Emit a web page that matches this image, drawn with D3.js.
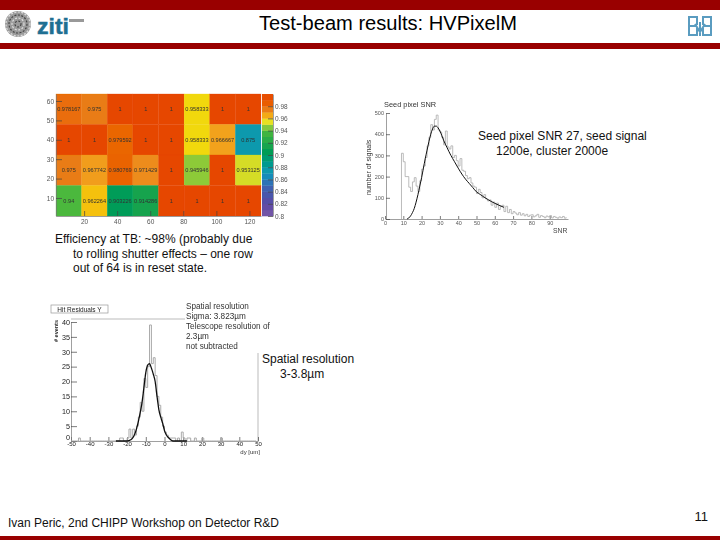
<!DOCTYPE html>
<html><head><meta charset="utf-8">
<style>
html,body{margin:0;padding:0;background:#fff}
svg{display:block}
text{font-family:"Liberation Sans",Arial,sans-serif}
</style>
<script src="https://cdn.jsdelivr.net/npm/d3@7"></script>
</head><body><div id="c"></div>
<script>
// ---------- slide text
const slideTitle = "Test-beam results: HVPixelM";
const footerText = "Ivan Peric, 2nd CHIPP Workshop on Detector R&D";
const pageNumber = "11";
const snrNote = ["Seed pixel SNR 27, seed signal", "1200e, cluster 2000e"];
const effNote = ["Efficiency at TB: ~98% (probably due", "to rolling shutter effects – one row", "out of 64 is in reset state."];
const resNote = ["Spatial resolution", "3-3.8µm"];
const resBox = ["Spatial resolution", "Sigma: 3.823µm", "Telescope resolution of", "2.3µm", "not subtracted"];

// ---------- efficiency map
const effRow1 = [0.978167, 0.975, 1, 1, 1, 0.958333, 1, 1];
const effRow2 = [1, 1, 0.979592, 1, 1, 0.958333, 0.966667, 0.875];
const effRow3 = [0.975, 0.967742, 0.980769, 0.971429, 1, 0.945946, 1, 0.953125];
const effRow4 = [0.94, 0.962264, 0.903226, 0.914286, 1, 1, 1, 1];
const effXTicks = [20, 40, 60, 80, 100, 120];
const effYTicks = [10, 20, 30, 40, 50, 60];
const zTicks = [0.8, 0.82, 0.84, 0.86, 0.88, 0.9, 0.92, 0.94, 0.96, 0.98];
const zStops = [0.8, 0.82, 0.85, 0.87, 0.905, 0.94, 0.945, 0.955, 0.96, 0.965, 0.97, 0.975, 0.98, 1];
const zColors = ["#7a5aa8", "#5a48a4", "#3a66b4", "#0a98bc", "#009c54", "#4cb83e", "#84c83c", "#e8e020", "#f6d400", "#f3aa18", "#ef9222", "#e97c12", "#ea6400", "#e64600"];

// ---------- seed pixel SNR
const snrXTicks = [0, 10, 20, 30, 40, 50, 60, 70, 80, 90];
const snrYTicks = [0, 100, 200, 300, 400, 500];
const snrBinStart = 9;
const snrCounts = [310, 270, 200, 200, 150, 130, 175, 195, 155, 130, 180, 235, 250, 290, 345, 385, 445, 420, 470, 490, 420, 410, 385, 350, 415, 340, 330, 345, 290, 300, 275, 250, 285, 230, 225, 205, 190, 195, 170, 155, 150, 120, 140, 125, 100, 115, 95, 85, 90, 65, 80, 55, 75, 45, 60, 65, 35, 60, 30, 45, 25, 35, 28, 20, 30, 18, 25, 15, 22, 12, 18, 20, 10, 15, 22, 8, 16, 12, 6, 14, 10, 16, 5, 12, 8, 4, 10, 6, 12, 4, 8];
const snrFitX = [12, 13, 14, 15, 16, 17, 18, 19, 20, 21, 22, 23, 24, 25, 26, 27, 28, 29, 30, 31, 32, 34, 36, 38, 40, 42, 44, 46, 48, 50, 52, 54, 56, 58, 60, 62, 65];
const snrFitY = [0, 5, 15, 30, 50, 80, 115, 155, 195, 240, 285, 325, 365, 400, 425, 438, 438, 430, 415, 395, 372, 335, 300, 270, 240, 212, 188, 168, 148, 128, 116, 104, 93, 83, 74, 66, 55];

// ---------- residuals
const resXTicks = [-50, -40, -30, -20, -10, 0, 10, 20, 30, 40, 50];
const resYTicks = [0, 5, 10, 15, 20, 25, 30, 35, 40];
const resBinStart = -50;
const resCounts = [0, 0, 0, 0, 1, 0, 0, 0, 0, 0, 0, 0, 0, 0, 0, 0, 0, 0, 0, 0, 0, 0, 0, 0, 0, 0, 1, 1, 0, 0, 1, 4, 1, 4, 2, 5, 8, 13, 10, 21, 18, 25, 39, 26, 28, 22, 15, 12, 8, 5, 3, 2, 1, 1, 1, 1, 0, 1, 0, 3, 1, 0, 1, 1, 0, 0, 1, 0, 0, 0, 1, 0, 0, 0, 0, 0, 0, 0, 0, 0, 1, 0, 0, 0, 0, 0, 0, 0, 0, 0, 0, 0, 0, 0, 0, 0, 0, 0, 0, 0];
const resFitX = [-26, -20, -18, -16.5, -15, -14, -13, -12, -11, -10, -9, -8, -7, -6, -5, -4, -3, -2, -1, 0, 1, 2, 3, 4.5, 12];
const resFitY = [0, 0, 0.4, 1.5, 4, 6.5, 9.5, 13, 18, 23, 25.5, 26, 24.5, 22.5, 20, 15, 10.5, 8, 6, 3.5, 2, 1.2, 0.6, 0, 0];

// ---------- drawing
const svg = d3.select("#c").append("svg").attr("width", 720).attr("height", 540);
const defs = svg.append("defs");
defs.append("filter").attr("id", "soft").attr("x", "-5%").attr("y", "-5%").attr("width", "110%").attr("height", "110%")
  .append("feGaussianBlur").attr("stdDeviation", 0.4);

const red = "#990000";
svg.append("rect").attr("width", 720).attr("height", 10).attr("fill", red);
svg.append("rect").attr("y", 43).attr("width", 720).attr("height", 6).attr("fill", red);
svg.append("rect").attr("y", 536).attr("width", 720).attr("height", 4).attr("fill", red);
svg.append("text").attr("x", 388).attr("y", 30).attr("text-anchor", "middle").attr("font-size", 20).attr("textLength", 258).attr("lengthAdjust", "spacingAndGlyphs").text(slideTitle);
svg.append("text").attr("x", 8).attr("y", 527).attr("font-size", 12).attr("fill", "#111").text(footerText);
svg.append("text").attr("x", 708).attr("y", 521).attr("text-anchor", "end").attr("font-size", 13).attr("fill", "#111").text(pageNumber);

// logos
const seal = svg.append("g").attr("filter", "url(#soft)");
seal.append("ellipse").attr("cx", 18).attr("cy", 24).attr("rx", 13).attr("ry", 13).attr("fill", "#9a9a9a");
[12, 9, 6, 3].forEach((r, i) => seal.append("ellipse").attr("cx", 18).attr("cy", 24).attr("rx", r).attr("ry", r)
  .attr("fill", "none").attr("stroke", i % 2 ? "#444" : "#ddd").attr("stroke-width", 1.2).attr("stroke-dasharray", "2 1.5"));
svg.append("text").attr("x", 37).attr("y", 34).attr("font-size", 22).attr("font-weight", 700).attr("fill", "#1f6f92").attr("stroke", "#1f6f92").attr("stroke-width", 0.5).attr("textLength", 32).attr("lengthAdjust", "spacingAndGlyphs").text("ziti");
svg.append("rect").attr("x", 69).attr("y", 19).attr("width", 15).attr("height", 3).attr("fill", "#999");
const rl = svg.append("g").attr("fill", "none").attr("stroke", "#5a9cc0").attr("stroke-width", 2).attr("filter", "url(#soft)");
rl.append("path").attr("d", "M697 25V17H689V26H696M703 25V17H711V26H704M697 28V35H689V27M703 28V35H711V27M700 22V36M695 24L700 32L705 24");

// notes
function note(lines, xs, y0, dy, size) {
  lines.forEach((t, i) => svg.append("text").attr("x", xs[Math.min(i, xs.length - 1)]).attr("y", y0 + i * dy).attr("font-size", size).attr("fill", "#111").text(t));
}
note(snrNote, [478, 496], 140, 15, 12);
note(effNote, [55, 73], 243, 14.5, 12);
note(resNote, [262, 280], 363, 15, 12);

// efficiency map
const em = svg.append("g").attr("filter", "url(#soft)");
const ex = d3.scaleLinear().domain([3, 127]).range([56, 261]);
const ey = d3.scaleLinear().domain([0.7, 63.6]).range([216, 94]);
const zc = d3.scaleLinear().domain(zStops).range(zColors).clamp(true);
const rows = [effRow1, effRow2, effRow3, effRow4];
const colW = (127 - 3) / 8, rowH = (63.6 - 0.7) / 4;
const cells = rows.flatMap((r, j) => r.map((v, i) => ({ v, i, j })));
em.selectAll("rect.cell").data(cells).join("rect").attr("class", "cell")
  .attr("x", d => ex(3 + d.i * colW)).attr("width", d => ex(3 + colW) - ex(3))
  .attr("y", d => ey(63.6 - d.j * rowH)).attr("height", d => ey(0) - ey(rowH))
  .attr("fill", d => zc(d.v)).attr("stroke", d => zc(d.v)).attr("stroke-width", 0.3);
em.selectAll("text.v").data(cells).join("text").attr("class", "v")
  .attr("x", d => ex(3 + (d.i + 0.5) * colW)).attr("y", d => ey(63.6 - (d.j + 0.5) * rowH) + 2)
  .attr("text-anchor", "middle").attr("font-size", 5.6).attr("fill", "#333")
  .text(d => d.v === 1 ? "1" : String(d.v));

function styleAxis(g, size, color) {
  g.selectAll("text").attr("font-size", size).attr("fill", color || "#555").attr("font-family", '"Liberation Sans",Arial,sans-serif');
  g.selectAll("line").attr("stroke", "#444").attr("stroke-width", 0.7);
  g.select(".domain").attr("stroke", "#777").attr("stroke-width", 0.7);
}
const eax = em.append("g").attr("transform", "translate(0,216)")
  .call(d3.axisBottom(ex).tickValues(effXTicks).tickFormat(d3.format("d")).tickSizeInner(-5).tickSizeOuter(0).tickPadding(3));
styleAxis(eax, 6.5);
const eay = em.append("g").attr("transform", "translate(56,0)")
  .call(d3.axisLeft(ey).tickValues(effYTicks).tickFormat(d3.format("d")).tickSizeInner(-6).tickSizeOuter(0).tickPadding(2));
styleAxis(eay, 6.5);

// colour bar
const zy = d3.scaleLinear().domain([0.8, 1]).range([216, 94]);
const bands = d3.range(20).map(k => 0.8 + k * 0.01);
em.selectAll("rect.band").data(bands).join("rect").attr("class", "band")
  .attr("x", 262).attr("width", 11).attr("y", d => zy(d + 0.01)).attr("height", d => zy(d) - zy(d + 0.01) + 0.3)
  .attr("fill", d => zc(d + 0.005));
const zax = em.append("g").attr("transform", "translate(273,0)")
  .call(d3.axisRight(zy).tickValues(zTicks).tickFormat(d => d3.format(".2~f")(d)).tickSizeInner(-5).tickSizeOuter(0).tickPadding(2));
styleAxis(zax, 6.5);

// SNR plot
const sp = svg.append("g").attr("filter", "url(#soft)");
const sx = d3.scaleLinear().domain([0, 100]).range([385, 568]);
const sy = d3.scaleLinear().domain([0, 500]).range([219, 113]);
const sax = sp.append("g").attr("transform", "translate(0,219)")
  .call(d3.axisBottom(sx).tickValues(snrXTicks).tickFormat(d3.format("d")).tickSizeInner(-3).tickSizeOuter(0).tickPadding(2));
styleAxis(sax, 5.5);
const say = sp.append("g").attr("transform", "translate(386,0)")
  .call(d3.axisLeft(sy).tickValues(snrYTicks).tickFormat(d3.format("d")).tickSizeInner(-4).tickSizeOuter(0).tickPadding(2));
styleAxis(say, 5.5);
const stepPts = [[snrBinStart, 0]].concat(snrCounts.map((c, i) => [snrBinStart + i, c]));
sp.append("path").datum(stepPts).attr("fill", "none").attr("stroke", "#aaa").attr("stroke-width", 0.8)
  .attr("d", d3.line().x(d => sx(d[0])).y(d => sy(d[1])).curve(d3.curveStepAfter));
sp.append("path").datum(snrFitX.map((x, i) => [x, snrFitY[i]])).attr("fill", "none").attr("stroke", "#111").attr("stroke-width", 1)
  .attr("d", d3.line().x(d => sx(d[0])).y(d => sy(d[1])).curve(d3.curveMonotoneX));
sp.append("text").attr("x", 384).attr("y", 107).attr("font-size", 7.4).attr("fill", "#333").text("Seed pixel SNR");
sp.append("text").attr("transform", "translate(371,195) rotate(-90)").attr("font-size", 7).attr("fill", "#333").text("number of signals");
sp.append("text").attr("x", 553).attr("y", 233).attr("font-size", 6.8).attr("fill", "#444").text("SNR");

// residual plot
const rp = svg.append("g").attr("filter", "url(#soft)");
const rx = d3.scaleLinear().domain([-50, 50]).range([71, 258]);
const ry = d3.scaleLinear().domain([0, 40]).range([441, 322]);
rp.append("path").attr("fill", "none").attr("stroke", "#aaa").attr("stroke-width", 0.8)
  .attr("d", `M${rx(-50)} 319H185M${rx(50)} 353V${ry(0)}`);
const rax = rp.append("g").attr("transform", `translate(0,${ry(0)})`)
  .call(d3.axisBottom(rx).tickValues(resXTicks).tickFormat(d => String(d)).tickSizeInner(-4).tickSizeOuter(0).tickPadding(1));
styleAxis(rax, 6, "#222");
const ray = rp.append("g").attr("transform", "translate(71,0)")
  .call(d3.axisLeft(ry).tickValues(resYTicks).tickFormat(d3.format("d")).tickSizeInner(-6).tickSizeOuter(0).tickPadding(1));
styleAxis(ray, 7.2, "#222");
ray.selectAll("text").filter(d => d === 0).attr("dy", "-0.2em");
const resSteps = resCounts.map((c, i) => [resBinStart + i, c]);
rp.append("path").datum(resSteps).attr("fill", "none").attr("stroke", "#aaa").attr("stroke-width", 1)
  .attr("d", d3.line().x(d => rx(d[0])).y(d => ry(d[1])).curve(d3.curveStepAfter));
rp.append("path").datum(resFitX.map((x, i) => [x, resFitY[i]])).attr("fill", "none").attr("stroke", "#111").attr("stroke-width", 1.3)
  .attr("d", d3.line().x(d => rx(d[0])).y(d => ry(d[1])).curve(d3.curveMonotoneX));
rp.append("rect").attr("x", 51).attr("y", 305).attr("width", 57).attr("height", 8).attr("fill", "#fff").attr("stroke", "#999").attr("stroke-width", 0.7);
rp.append("text").attr("x", 79.5).attr("y", 311.5).attr("text-anchor", "middle").attr("font-size", 6.5).attr("fill", "#222").text("Hit Residuals Y");
rp.append("text").attr("transform", "translate(58,342) rotate(-90)").attr("font-size", 5.5).attr("font-weight", 700).attr("fill", "#222").text("# events");
rp.append("text").attr("x", 260).attr("y", 454).attr("text-anchor", "end").attr("font-size", 6).attr("fill", "#333").text("dy [um]");
resBox.forEach((t, i) => rp.append("text").attr("x", 186).attr("y", 309 + i * 10.1).attr("font-size", 8.2).attr("fill", "#333").text(t));
</script></body></html>
